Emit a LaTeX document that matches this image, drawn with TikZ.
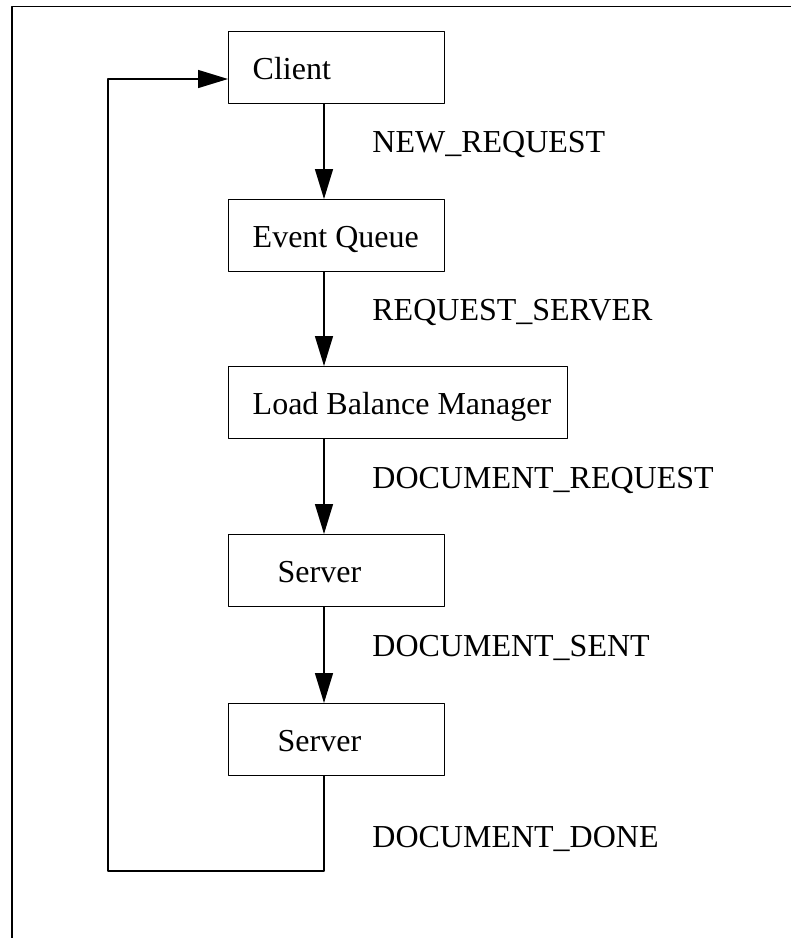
\documentclass[tikz,border=0pt]{standalone}
\usepackage{fontspec}
\setmainfont{Liberation Serif}
\usetikzlibrary{arrows.meta}

\begin{document}
\begin{tikzpicture}[line cap=round,line join=round,>={Triangle[length=15pt,width=9pt]},x=0.5pt,y=-0.5pt,
		box/.style={draw,line width=0.7pt,minimum height=36pt,inner xsep=12pt,text height=14pt,text depth=2pt,anchor=north west},
		flow/.style={->,line width=0.7pt},
		msg/.style={anchor=base west,inner sep=0pt}]
				\clip(0,0) rectangle (791,938);
				\fontsize{16}{19}\selectfont
				\draw [line width=0.7pt] (12,945) -- (12,6.5) -- (800,6.5);
				\node[box] (client) at (228,31) {\makebox[84pt][l]{Client}};
				\node[box] (queue) at (228,199) {\makebox[84pt][l]{Event Queue}};
				\node[box] (lbm) at (228,366) {\makebox[145.5pt][l]{Load Balance Manager}};
				\node[box,inner xsep=24.5pt] (srvA) at (228,534) {\makebox[59pt][l]{Server}};
				\node[box,inner xsep=24.5pt] (srvB) at (228,703) {\makebox[59pt][l]{Server}};
				\coordinate (spine) at (324,0);
				\coordinate (back) at (108,871);
				\coordinate (entry) at (228,79);
				\draw [flow] (client.south -| spine) -- (queue.north -| spine);
				\draw [flow] (queue.south -| spine) -- (lbm.north -| spine);
				\draw [flow] (lbm.south -| spine) -- (srvA.north -| spine);
				\draw [flow] (srvA.south -| spine) -- (srvB.north -| spine);
				\draw [flow] (srvB.south -| spine) |- (back) |- (entry);
				\node[msg] (newReq) at (372,152) {NEW\_REQUEST};
				\node[msg] (reqSrv) at (372,320) {REQUEST\_SERVER};
				\node[msg] (docReq) at (372,488) {DOCUMENT\_REQUEST};
				\node[msg] (docSent) at (372,656) {DOCUMENT\_SENT};
				\node[msg] (docDone) at (372,847) {DOCUMENT\_DONE};
			\end{tikzpicture}
\end{document}
